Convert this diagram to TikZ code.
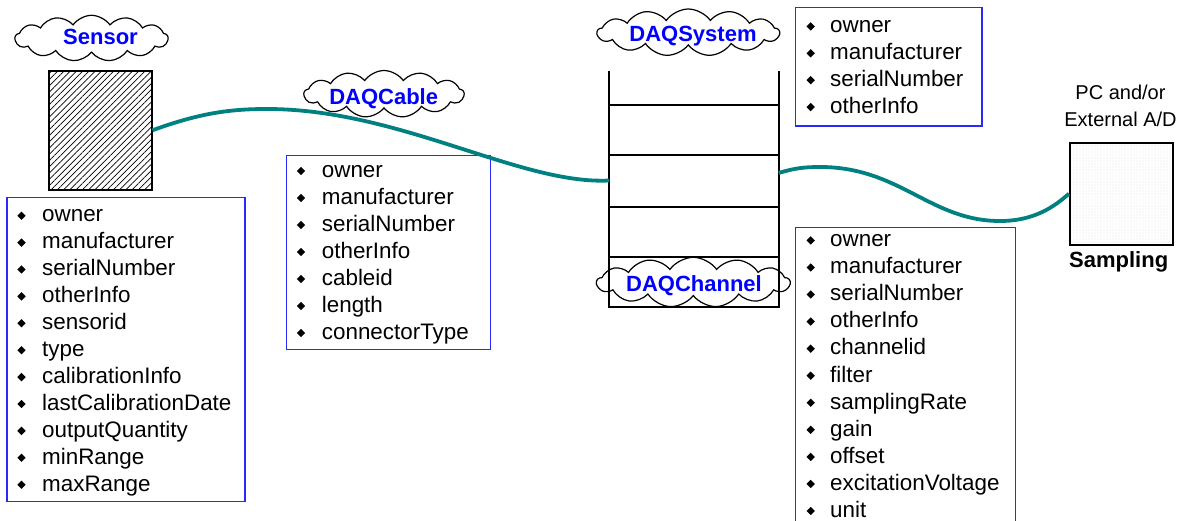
\documentclass[tikz,border=0pt]{standalone}
\usepackage{fontspec}
\setmainfont{Liberation Sans}
\usetikzlibrary{shapes.symbols,shapes.geometric,patterns.meta}
\definecolor{cabteal}{RGB}{0,128,128}
\definecolor{labblue}{RGB}{0,0,255}
\definecolor{boxblue}{RGB}{40,40,255}
\tikzset{
  item/.style={anchor=base west, inner sep=0pt, font=\fontsize{22.4}{26}\selectfont},
  bul/.style={diamond, fill=black, inner sep=0pt, minimum width=8.5pt, minimum height=8.5pt},
  listbox/.style={draw=boxblue, line width=1.4pt, inner sep=0pt},
  cloudshape/.style={cloud, draw=black, line width=1.2pt, cloud puffs=13, cloud puff arc=110, cloud ignores aspect, inner sep=0pt},
  cloudlab/.style={anchor=base, inner sep=0pt, text=labblue, font=\fontsize{22}{26}\selectfont\bfseries},
  blackbox/.style={draw=black, line width=2pt, inner sep=0pt},
  stackline/.style={line width=2pt},
  cable/.style={draw=cabteal, line width=3.8pt},
  plain/.style={anchor=base, inner sep=0pt, font=\fontsize{20}{24}\selectfont}
}
\begin{document}
\begin{tikzpicture}[x=1pt,y=-1pt]
\useasboundingbox (0,0) rectangle (1178,521);
% Sensor
\node[cloudshape, minimum width=153pt, minimum height=46pt] (sensorcloud) at (91.5,38.3) {};
\node[cloudlab] (sensorlab) at (100.5,45) {Sensor};
\node[blackbox, minimum width=102.7pt, minimum height=119.3pt,
  pattern={Lines[angle=45,distance=4.4pt,line width=0.7pt]}] (sensor) at (100.7,130.3) {};
\node[listbox, minimum width=238pt, minimum height=304.4pt] (sensorlist) at (126,349.5) {};
\foreach \t [count=\i from 0] in {owner,manufacturer,serialNumber,otherInfo,sensorid,type,calibrationInfo,lastCalibrationDate,outputQuantity,minRange,maxRange} {
  \node[item] (si\i) at (42,{222+26.9*\i}) {\t};
  \node[bul] (sb\i) at (21.5,{222+26.9*\i-6.3}) {};
}
% DAQCable
\node[cloudshape, minimum width=160pt, minimum height=47pt] (cablecloud) at (384,94) {};
\node[cloudlab] (cablelab) at (383.7,105) {DAQCable};
\node[listbox, minimum width=204pt, minimum height=194pt] (cablelist) at (388.7,252.7) {};
\foreach \t [count=\i from 0] in {owner,manufacturer,serialNumber,otherInfo,cableid,length,connectorType} {
  \node[item] (ci\i) at (321.7,{177.3+27*\i}) {\t};
  \node[bul] (cb\i) at (301,{177.3+27*\i-6.3}) {};
}
% DAQSystem stack
\coordinate (stTL) at (609.3,70.7);
\coordinate (stTR) at (778.7,70.7);
\coordinate (stBL) at (609.3,307.3);
\coordinate (stBR) at (778.7,307.3);
\draw[stackline] (stTL) -- (stBL) -- (stBR) -- (stTR);
\foreach \y in {105.3,155.3,206.7,256.7} {
  \draw[stackline] (609.3,\y) -- (778.7,\y);
}
\node[cloudshape, minimum width=182pt, minimum height=47pt] (syscloud) at (688.3,32.5) {};
\node[cloudlab] (syslab) at (693,41.7) {DAQSystem};
\node[cloudshape, minimum width=193pt, minimum height=50pt] (chancloud) at (693.3,282.3) {};
\node[cloudlab] (chanlab) at (694,291.7) {DAQChannel};
\node[listbox, minimum width=186.7pt, minimum height=118.7pt] (syslist) at (888.7,66.7) {};
\foreach \t [count=\i from 0] in {owner,manufacturer,serialNumber,otherInfo} {
  \node[item] (yi\i) at (830,{32.7+26.9*\i}) {\t};
  \node[bul] (yb\i) at (810.7,{32.7+26.9*\i-6.3}) {};
}
% DAQChannel list (runs off the bottom)
\draw[draw=boxblue, line width=1.4pt] (795.3,523) -- (795.3,227.3) -- (1015.3,227.3) -- (1015.3,523);
\foreach \t [count=\i from 0] in {owner,manufacturer,serialNumber,otherInfo,channelid,filter,samplingRate,gain,offset,excitationVoltage,unit} {
  \node[item] (hi\i) at (830,{246.7+27.06*\i}) {\t};
  \node[bul] (hb\i) at (810.7,{246.7+27.06*\i-6.3}) {};
}
% Sampling
\node[plain] (pc1) at (1120.5,100) {PC and/or};
\node[plain] (pc2) at (1120.5,127) {External A/D};
\node[blackbox, minimum width=102.7pt, minimum height=102pt,
  pattern={Dots[distance=3pt,radius=0.45pt]}, pattern color=gray!60] (sampling) at (1121.3,193.7) {};
\node[plain, font=\fontsize{22}{26}\selectfont\bfseries] (samplab) at (1118.7,268) {Sampling};
% Cables
\coordinate (stackin) at (609.3,180.5);
\coordinate (stackout) at (778.7,173);
\draw[cable] (sensor.east) .. controls (200,113) and (230,109) .. (267,109)
  .. controls (400,109) and (520,185) .. (stackin);
\draw[cable] (stackout) .. controls (795,168) and (805,167) .. (820,167)
  .. controls (900,167) and (930,221) .. (1000,221)
  .. controls (1035,221) and (1055,206) .. (sampling.west);
\end{tikzpicture}
\end{document}
